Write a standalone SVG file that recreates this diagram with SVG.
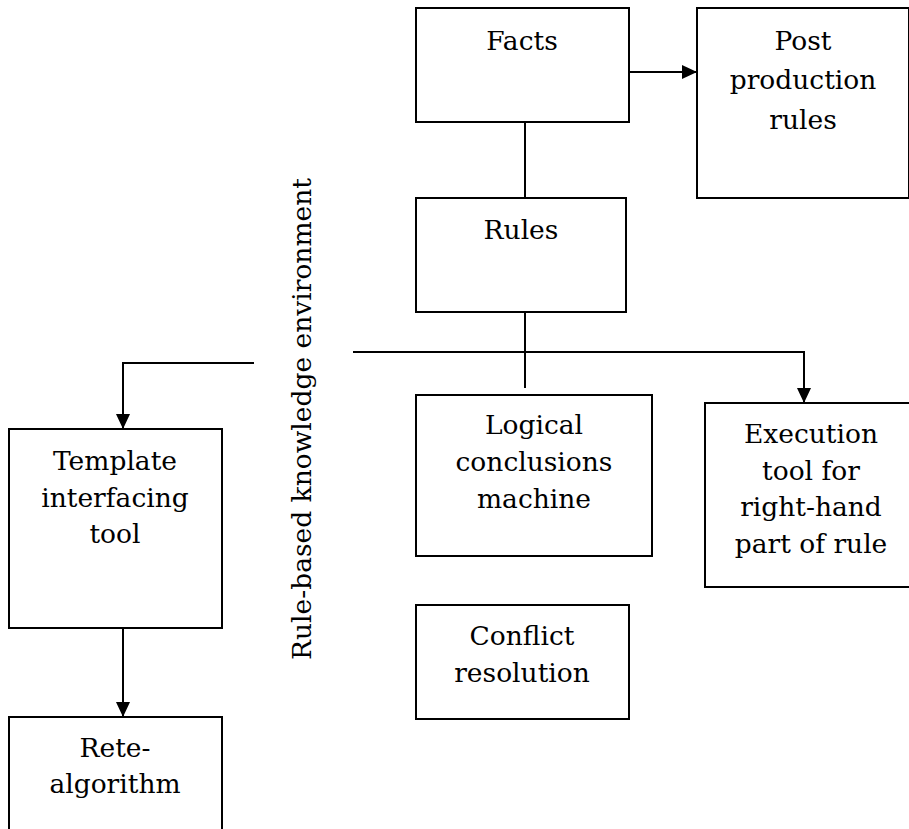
<svg xmlns="http://www.w3.org/2000/svg" width="909" height="829" viewBox="0 0 909 829">
<style>
.box{fill:#fff;stroke:#000;stroke-width:2}
.lbl{font-family:'DejaVu Serif','Liberation Serif',serif;font-size:26.5px;fill:#000;text-anchor:middle}
.con{fill:none;stroke:#000;stroke-width:2}
</style>
<defs>
<marker id="arr" markerWidth="15" markerHeight="14" refX="15" refY="7" orient="auto" markerUnits="userSpaceOnUse">
<path d="M0,0 L15,7 L0,14 Z" fill="#000"/>
</marker>
</defs>
<rect width="909" height="829" fill="#fff"/>
<g id="connectors">
<path class="con" d="M629,72 H697" marker-end="url(#arr)"/>
<path class="con" d="M525,122 V198"/>
<path class="con" d="M525,312 V388"/>
<path class="con" d="M353,352 H804 V403" marker-end="url(#arr)"/>
<path class="con" d="M254,363 H123 V429" marker-end="url(#arr)"/>
<path class="con" d="M123,628 V717" marker-end="url(#arr)"/>
</g>
<g id="facts"><rect class="box" x="416" y="8" width="213" height="114"/><text class="lbl" x="522" y="50">Facts</text></g>
<g id="post"><rect class="box" x="697" y="8" width="212" height="190"/><text class="lbl" x="803" y="50">Post</text><text class="lbl" x="803" y="89">production</text><text class="lbl" x="803" y="129">rules</text></g>
<g id="rules"><rect class="box" x="416" y="198" width="210" height="114"/><text class="lbl" x="521" y="239">Rules</text></g>
<g id="logical"><rect class="box" x="416" y="395" width="236" height="161"/><text class="lbl" x="534" y="434">Logical</text><text class="lbl" x="534" y="471">conclusions</text><text class="lbl" x="534" y="508">machine</text></g>
<g id="execution"><rect class="box" x="705" y="403" width="212" height="184"/><text class="lbl" x="811" y="443">Execution</text><text class="lbl" x="811" y="480">tool for</text><text class="lbl" x="811" y="516">right-hand</text><text class="lbl" x="811" y="553">part of rule</text></g>
<g id="conflict"><rect class="box" x="416" y="605" width="213" height="114"/><text class="lbl" x="522" y="645">Conflict</text><text class="lbl" x="522" y="682">resolution</text></g>
<g id="template"><rect class="box" x="9" y="429" width="213" height="199"/><text class="lbl" x="115" y="470">Template</text><text class="lbl" x="115" y="507">interfacing</text><text class="lbl" x="115" y="543">tool</text></g>
<g id="rete"><rect class="box" x="9" y="717" width="213" height="130"/><text class="lbl" x="115" y="757">Rete-</text><text class="lbl" x="115" y="793">algorithm</text></g>
<g id="env"><text class="lbl" transform="translate(311,419) rotate(-90)">Rule-based knowledge environment</text></g>
</svg>
